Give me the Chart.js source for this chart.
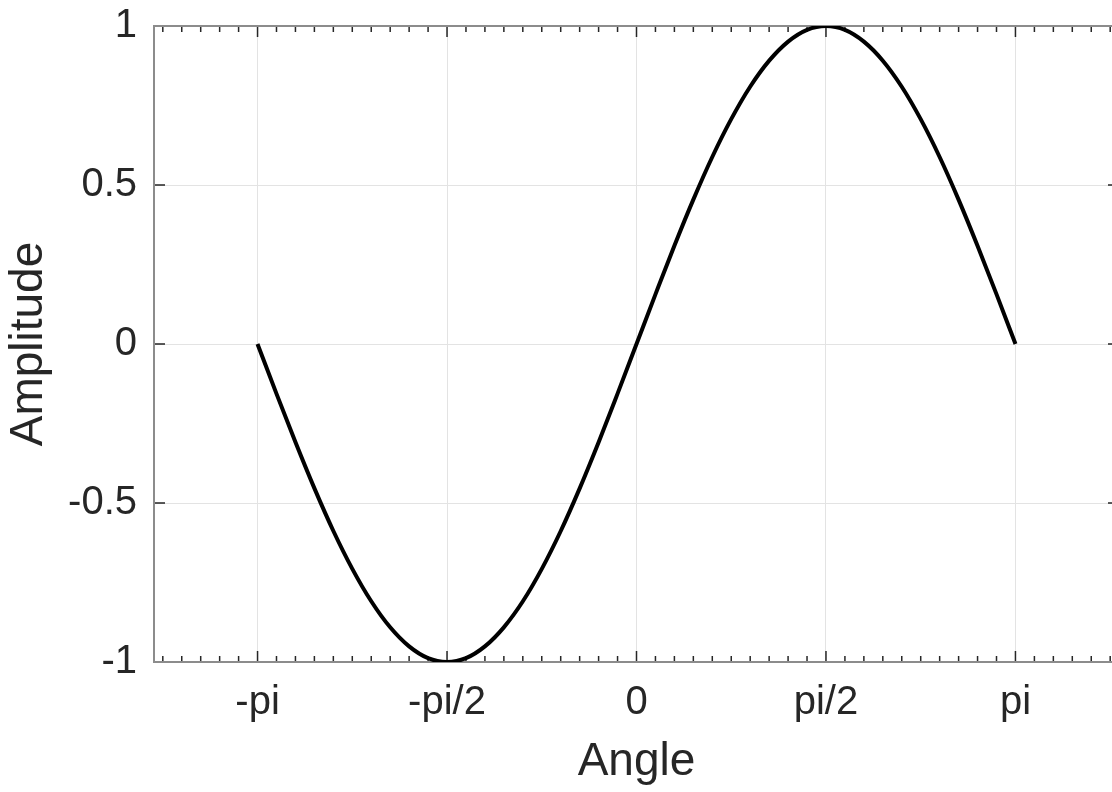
<!DOCTYPE html>
<html>
<head>
<meta charset="utf-8">
<script src="https://cdn.jsdelivr.net/npm/chart.js@4/dist/chart.umd.min.js"></script>
<style>
  html, body { margin: 0; padding: 0; background: #fff; overflow: hidden; }
  #wrap { width: 1112px; height: 792px; overflow: hidden; }
</style>
</head>
<body>
<div id="wrap"><canvas id="sine" width="1125" height="792"></canvas></div>
<script>
// angle (rad) and amplitude
const angles = [-3.142, -2.985, -2.827, -2.670, -2.513, -2.356, -2.199, -2.042, -1.885, -1.728,
  -1.571, -1.414, -1.257, -1.100, -0.942, -0.785, -0.628, -0.471, -0.314, -0.157,
  0, 0.157, 0.314, 0.471, 0.628, 0.785, 0.942, 1.100, 1.257, 1.414,
  1.571, 1.728, 1.885, 2.042, 2.199, 2.356, 2.513, 2.670, 2.827, 2.985, 3.142]
const amplitude = [0, -0.156, -0.309, -0.454, -0.588, -0.707, -0.809, -0.891, -0.951, -0.988,
  -1, -0.988, -0.951, -0.891, -0.809, -0.707, -0.588, -0.454, -0.309, -0.156,
  0, 0.156, 0.309, 0.454, 0.588, 0.707, 0.809, 0.891, 0.951, 0.988,
  1, 0.988, 0.951, 0.891, 0.809, 0.707, 0.588, 0.454, 0.309, 0.156, 0]

const xTickValues = [-3.14159, -1.5708, 0, 1.5708, 3.14159]
const xTickLabels = ['-pi', '-pi/2', '0', 'pi/2', 'pi']
const yTickValues = [-1, -0.5, 0, 0.5, 1]
const yTickLabels = ['-1', '-0.5', '0', '0.5', '1']

const fontFamily = "'Liberation Sans', Arial, sans-serif"
const textColour = '#262626'

// matlab style box with inward ticks (minor ticks on x only)
const boxTicks = {
  id: 'boxTicks',
  beforeDatasetsDraw(chart) {
    const { ctx, chartArea: a, scales: { x, y } } = chart
    const step = (xTickValues[1] - xTickValues[0]) / 10
    ctx.save()
    ctx.strokeStyle = textColour
    ctx.lineWidth = 1.5
    ctx.beginPath()
    for (let k = Math.ceil(x.min / step); k <= Math.floor(x.max / step); k++) {
      const px = x.getPixelForValue(k * step)
      const len = (k % 10 === 0) ? 11 : 6
      ctx.moveTo(px, a.bottom); ctx.lineTo(px, a.bottom - len)
      ctx.moveTo(px, a.top); ctx.lineTo(px, a.top + len)
    }
    yTickValues.forEach(v => {
      const py = y.getPixelForValue(v)
      ctx.moveTo(a.left, py); ctx.lineTo(a.left + 11, py)
      ctx.moveTo(a.right, py); ctx.lineTo(a.right - 11, py)
    })
    ctx.stroke()
    ctx.strokeStyle = '#8c8c8c'
    ctx.lineWidth = 2
    ctx.strokeRect(a.left, a.top, a.right - a.left, a.bottom - a.top)
    ctx.restore()
  }
}

new Chart(document.getElementById('sine').getContext('2d'),
{
  type: 'line',
  data:
  {
    datasets:
    [
      {
        data: angles.map((a, i) => ({ x: a, y: amplitude[i] })),
        borderColor: '#000000',
        borderWidth: 4,
        pointRadius: 0,
        cubicInterpolationMode: 'monotone',
        fill: false
      }
    ]
  },
  options:
  {
    responsive: false,
    animation: false,
    layout: { padding: { top: 26, right: 6, left: 0, bottom: 0 } },
    plugins:
    {
      legend: { display: false },
      tooltip: { enabled: false }
    },
    scales:
    {
      x:
      {
        type: 'linear',
        min: -4,
        max: 4,
        afterBuildTicks: scale => { scale.ticks = xTickValues.map(v => ({ value: v })) },
        afterFit: scale => {
          scale.height = 130
          scale.paddingLeft = 0
          scale.paddingRight = 0
        },
        ticks:
        {
          autoSkip: false,
          maxRotation: 0,
          padding: 17,
          color: textColour,
          font: { family: fontFamily, size: 40 },
          callback: (value, index) => xTickLabels[index]
        },
        grid: { color: '#e3e3e3', lineWidth: 1, drawTicks: false },
        border: { display: false },
        title:
        {
          display: true,
          text: 'Angle',
          color: textColour,
          font: { family: fontFamily, size: 46 },
          padding: { top: 0, bottom: 2 }
        }
      },
      y:
      {
        min: -1,
        max: 1,
        afterBuildTicks: scale => { scale.ticks = yTickValues.map(v => ({ value: v })) },
        afterFit: scale => {
          scale.width = 154
          scale.paddingTop = 0
          scale.paddingBottom = 0
        },
        ticks:
        {
          padding: 17,
          color: textColour,
          font: { family: fontFamily, size: 40 },
          callback: (value, index) => yTickLabels[index]
        },
        grid: { color: '#e3e3e3', lineWidth: 1, drawTicks: false },
        border: { display: false },
        title:
        {
          display: true,
          text: 'Amplitude',
          color: textColour,
          font: { family: fontFamily, size: 46 },
          padding: { top: 2, bottom: 0 }
        }
      }
    }
  },
  plugins: [boxTicks]
})
</script>
</body>
</html>
